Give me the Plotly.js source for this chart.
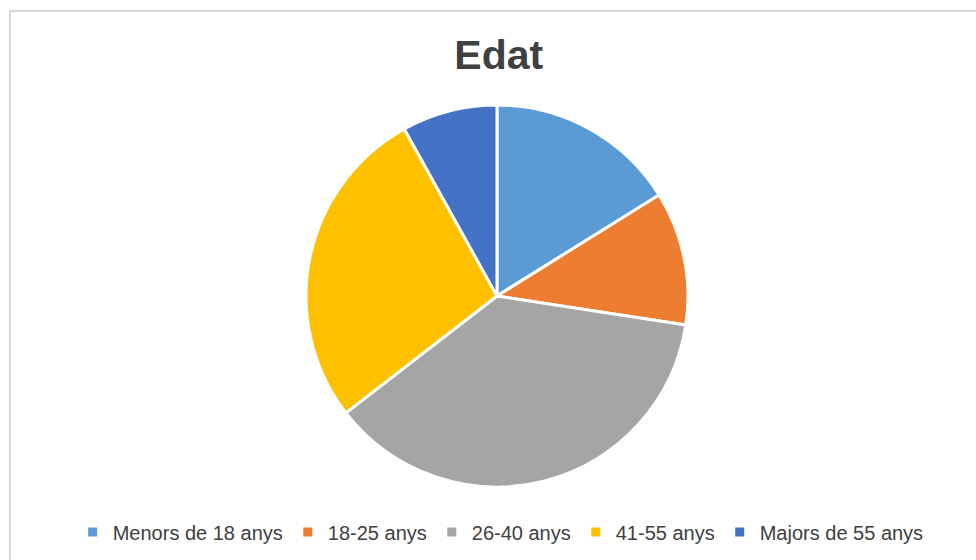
<!DOCTYPE html>
<html>
<head>
<meta charset="utf-8">
<script src="https://cdn.plot.ly/plotly-3.0.1.min.js"></script>
<style>
  html, body { margin: 0; padding: 0; background: #ffffff; }
  #chart { width: 976px; height: 560px; }
</style>
</head>
<body>
<div id="chart"></div>
<script>
const categories = ['Menors de 18 anys', '18-25 anys', '26-40 anys', '41-55 anys', 'Majors de 55 anys'];
const values = [10, 7, 23, 17, 5];
const colors = ['#5B9BD5', '#ED7D31', '#A5A5A5', '#FFC000', '#4472C4'];
const chartTitle = 'Edat';

const trace = {
  type: 'pie',
  labels: categories,
  values: values,
  sort: false,
  direction: 'clockwise',
  rotation: 0,
  textinfo: 'none',
  hoverinfo: 'label+value+percent',
  marker: { colors: colors, line: { color: '#ffffff', width: 3 } },
  domain: { x: [0.3135, 0.7049], y: [0.1304, 0.8125] }
};

const layout = {
  width: 976,
  height: 560,
  margin: { l: 0, r: 0, t: 0, b: 0 },
  paper_bgcolor: '#ffffff',
  plot_bgcolor: '#ffffff',
  title: {
    text: '<b>' + chartTitle + '</b>',
    x: 0.511, xanchor: 'center',
    y: 0.903, yanchor: 'middle',
    font: { family: 'Liberation Sans, Arial, sans-serif', size: 41, color: '#404040' }
  },
  showlegend: true,
  legend: {
    orientation: 'h',
    x: 0.513, xanchor: 'center',
    y: 0.05, yanchor: 'middle',
    font: { family: 'Liberation Sans, Arial, sans-serif', size: 20, color: '#404040' },
    traceorder: 'normal'
  },
  shapes: [{
    type: 'rect', xref: 'paper', yref: 'paper',
    x0: 0.0102, x1: 1.02, y0: -0.02, y1: 0.9804,
    line: { color: '#d9d9d9', width: 2 },
    fillcolor: 'rgba(0,0,0,0)',
    layer: 'below'
  }]
};

Plotly.newPlot('chart', [trace], layout, { displayModeBar: false, staticPlot: true });
</script>
</body>
</html>
